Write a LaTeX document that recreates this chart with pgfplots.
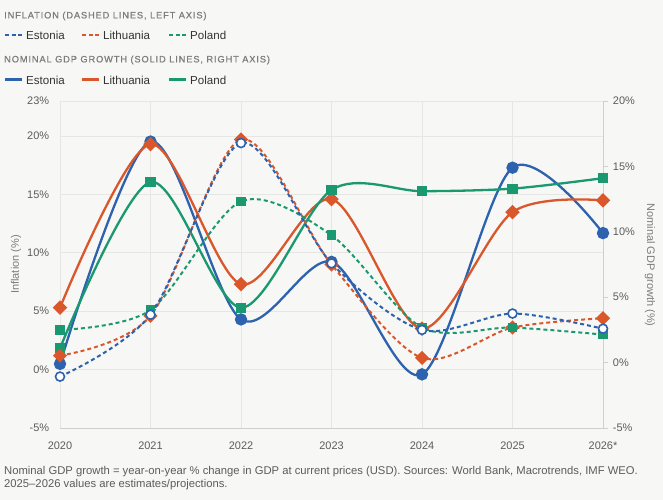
\documentclass[border=0pt]{standalone}
\usepackage{fontspec}
\setmainfont{Liberation Sans}
\newfontfamily\headfont[LetterSpace=9.5, FakeBold=0.6]{Liberation Sans}
\usepackage{pgfplots}
\pgfplotsset{compat=1.18}
\definecolor{cEE}{HTML}{2D62AE}
\definecolor{cLT}{HTML}{D9572B}
\definecolor{cPL}{HTML}{1A9870}
\definecolor{bg}{HTML}{F7F7F5}
\definecolor{gridc}{HTML}{E6E6E3}
\definecolor{axisc}{HTML}{CFCFCC}
\definecolor{tickc}{HTML}{5C5C5C}
\definecolor{headc}{HTML}{7C7C7C}
\definecolor{legc}{HTML}{333333}

% GDP growth (right axis)
\pgfplotstableread{
year EE LT PL
2020 -0.1 4.2 1.1
2021 16.9 16.7 13.8
2022 3.3 6.0 4.2
2023 7.7 12.5 13.2
2024 -0.9 2.6 13.1
2025 14.9 11.5 13.3
2026 9.9 12.4 14.1
}\gdpdata
% Inflation (left axis)
\pgfplotstableread{
year EE LT PL
2020 -0.6 1.2 3.4
2021 4.7 4.6 5.1
2022 19.4 19.7 14.4
2023 9.1 9.0 11.5
2024 3.4 1.0 3.6
2025 4.8 3.6 3.6
2026 3.5 4.4 3.0
}\infdata

\pgfplotsset{
  common/.style={
    at={(60bp,72bp)}, anchor=south west, scale only axis,
    width=543bp, height=327bp, xmin=2020, xmax=2026,
  },
  gdpline/.style={solid, line width=2.3bp, smooth},
  infline/.style={line width=2bp, dash pattern=on 4bp off 3bp, smooth},
}

\begin{document}
\begin{tikzpicture}[x=1bp,y=1bp]
\fill[bg] (0,0) rectangle (663,500);
\useasboundingbox (0,0) rectangle (663,500);

% frame: grid, left ticks, x ticks
\begin{axis}[common,
  ymin=-5, ymax=23,
  axis x line*=bottom, axis y line*=left,
  y axis line style={draw=none},
  x axis line style={draw=axisc, line width=0.8bp},
  grid=major, grid style={draw=gridc, line width=0.8bp},
  major tick length=0pt,
  xtick={2020,2021,2022,2023,2024,2025,2026},
  xticklabels={2020,2021,2022,2023,2024,2025,2026*},
  ytick={-5,0,5,10,15,20,23},
  yticklabels={-5\%,0\%,5\%,10\%,15\%,20\%,23\%},
  tick label style={font=\fontsize{11}{13}\selectfont, text=tickc, inner sep=0pt},
  xticklabel style={anchor=base, yshift=-22bp},
  yticklabel style={anchor=east, xshift=-10.7bp},
]
\end{axis}

% GDP axis (right)
\begin{axis}[common,
  ymin=-5, ymax=20, clip=false,
  axis x line=none, axis y line*=right,
  y axis line style={draw=axisc, line width=0.8bp},
  ytick={-5,0,5,10,15,20},
  yticklabels={-5\%,0\%,5\%,10\%,15\%,20\%},
  tick align=outside, major tick length=5bp,
  ytick style={draw=axisc, line width=0.8bp},
  tick label style={font=\fontsize{11}{13}\selectfont, text=tickc, inner sep=0pt},
  yticklabel style={anchor=west, xshift=4.7bp},
]
\addplot[gdpline, cEE, mark=*, mark size=5bp] table[x=year, y=EE] {\gdpdata};
\addplot[gdpline, cLT, mark=square*, mark size=4bp, mark options={rotate=45}] table[x=year, y=LT] {\gdpdata};
\addplot[gdpline, cPL, mark=square*, mark size=3.9bp] table[x=year, y=PL] {\gdpdata};
\end{axis}

% Inflation axis (left), plots only
\begin{axis}[common,
  ymin=-5, ymax=23, clip=false, hide axis,
]
\addplot[infline, cLT, mark=square*, mark size=4bp, mark options={solid, rotate=45}] table[x=year, y=LT] {\infdata};
\addplot[infline, cPL, mark=square*, mark size=3.9bp, mark options={solid}] table[x=year, y=PL] {\infdata};
\addplot[infline, cEE, mark=*, mark size=4.5bp, mark options={solid, fill=white, draw=cEE, line width=1.6bp}] table[x=year, y=EE] {\infdata};
\end{axis}

% axis titles
\node[rotate=90, font=\fontsize{11}{13}\selectfont, text=headc] at (16,235.5) {Inflation (\%)};
\node[rotate=-90, font=\fontsize{11}{13}\selectfont, text=headc] at (650,235) {Nominal GDP growth (\%)};

% legend
\node[anchor=base west, inner sep=0pt, font=\headfont\fontsize{9.3}{11}\selectfont, text=headc] at (4,481.6) {INFLATION (DASHED LINES, LEFT AXIS)};
\draw[cEE, line width=2bp, dash pattern=on 4bp off 2.5bp] (5,465) -- (22,465);
\node[anchor=base west, inner sep=0pt, font=\fontsize{11.6}{13}\selectfont, text=legc] at (26,460.9) {Estonia};
\draw[cLT, line width=2bp, dash pattern=on 4bp off 2.5bp] (82,465) -- (99,465);
\node[anchor=base west, inner sep=0pt, font=\fontsize{11.6}{13}\selectfont, text=legc] at (103,460.9) {Lithuania};
\draw[cPL, line width=2bp, dash pattern=on 4bp off 2.5bp] (169,465) -- (186,465);
\node[anchor=base west, inner sep=0pt, font=\fontsize{11.6}{13}\selectfont, text=legc] at (190,460.9) {Poland};

\node[anchor=base west, inner sep=0pt, font=\headfont\fontsize{9.3}{11}\selectfont, text=headc] at (4,437.6) {NOMINAL GDP GROWTH (SOLID LINES, RIGHT AXIS)};
\draw[cEE, line width=3bp] (5,420) -- (22,420);
\node[anchor=base west, inner sep=0pt, font=\fontsize{11.6}{13}\selectfont, text=legc] at (26,415.9) {Estonia};
\draw[cLT, line width=3bp] (82,420) -- (99,420);
\node[anchor=base west, inner sep=0pt, font=\fontsize{11.6}{13}\selectfont, text=legc] at (103,415.9) {Lithuania};
\draw[cPL, line width=3bp] (169,420) -- (186,420);
\node[anchor=base west, inner sep=0pt, font=\fontsize{11.6}{13}\selectfont, text=legc] at (190,415.9) {Poland};

% footnote
\node[anchor=base west, inner sep=0pt, font=\fontsize{11.3}{13}\selectfont, text=tickc] at (4,25.5) {Nominal GDP growth = year-on-year \% change in GDP at current prices (USD). Sources: World Bank, Macrotrends, IMF WEO.};
\node[anchor=base west, inner sep=0pt, font=\fontsize{11.3}{13}\selectfont, text=tickc] at (4,12) {2025--2026 values are estimates/projections.};
\end{tikzpicture}
\end{document}
